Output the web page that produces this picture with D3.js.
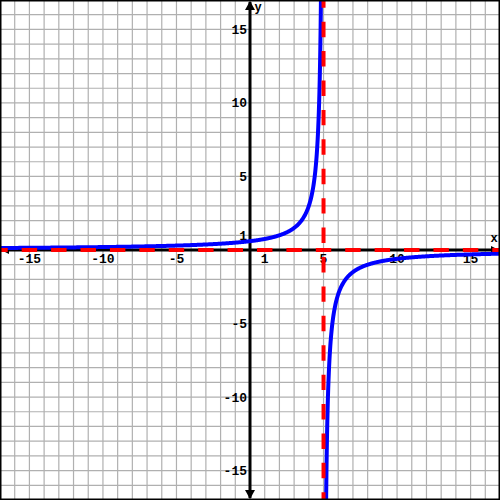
<!DOCTYPE html>
<html lang="en">
<head>
    <meta charset="UTF-8">
    <title>Rational function</title>
    <script src="https://cdnjs.cloudflare.com/ajax/libs/d3/7.8.5/d3.min.js"></script>
    <style>
        body { margin: 0; background: #fff; }
        text { font-family: "Liberation Mono", "DejaVu Sans Mono", monospace; font-weight: bold; font-size: 13px; fill: #000; }
    </style>
</head>
<body>
<div id="chart"></div>
<script>
    // Chart size
    var w = 500;
    var h = 500;

    // Data
    var xDomain = [-17, 17];
    var yDomain = [-17, 17];
    var gridValues = d3.range(-17, 18);
    var xTicks = [-15, -10, -5, 1, 5, 10, 15];
    var yTicks = [15, 10, 5, 1, -5, -10, -15];
    // y = numerator / (asymptoteX - x)
    var numerator = [3];
    var asymptoteX = [5];
    var asymptoteY = [0];

    var x = d3.scaleLinear().domain(xDomain).range([0, w]);
    var y = d3.scaleLinear().domain(yDomain).range([h, 0]);
    var unit = x(1) - x(0);

    var svg = d3.select("#chart").append("svg")
        .attr("width", w)
        .attr("height", h);

    svg.append("defs").append("clipPath").attr("id", "clip")
        .append("rect").attr("width", w).attr("height", h);

    // grid
    var grid = svg.append("g").attr("stroke", "#b0b0b0").attr("stroke-width", 1.2);
    grid.selectAll(".gx").data(gridValues).enter().append("line")
        .attr("x1", function(d) { return x(d); })
        .attr("x2", function(d) { return x(d); })
        .attr("y1", 0).attr("y2", h);
    grid.selectAll(".gy").data(gridValues).enter().append("line")
        .attr("y1", function(d) { return y(d); })
        .attr("y2", function(d) { return y(d); })
        .attr("x1", 0).attr("x2", w);

    // axes
    var axes = svg.append("g");
    axes.append("line").attr("x1", 2).attr("x2", w - 2)
        .attr("y1", y(0)).attr("y2", y(0))
        .attr("stroke", "#000").attr("stroke-width", 3);
    axes.append("line").attr("x1", x(0)).attr("x2", x(0))
        .attr("y1", 2).attr("y2", h - 2)
        .attr("stroke", "#000").attr("stroke-width", 3);

    // arrow heads
    var a = 5;
    var arrows = [
        [[x(0), 1], [x(0) - a, 10], [x(0) + a, 10]],
        [[x(0), h - 1], [x(0) - a, h - 10], [x(0) + a, h - 10]],
        [[w - 1, y(0)], [w - 9, y(0) - 4], [w - 9, y(0) + 4]],
        [[1, y(0)], [9, y(0) - 4], [9, y(0) + 4]]
    ];
    axes.selectAll("path.arrow").data(arrows).enter().append("path")
        .attr("class", "arrow")
        .attr("d", function(d) { return "M" + d.join("L") + "Z"; })
        .attr("fill", "#000");

    // tick labels
    svg.selectAll(".xlabel").data(xTicks).enter().append("text")
        .attr("x", function(d) { return x(d); })
        .attr("y", y(0) + 13)
        .attr("text-anchor", "middle")
        .text(function(d) { return d; });
    svg.selectAll(".ylabel").data(yTicks).enter().append("text")
        .attr("x", x(0) - 3)
        .attr("y", function(d) { return y(d) + 4.5; })
        .attr("text-anchor", "end")
        .text(function(d) { return d; });

    svg.append("text").attr("x", w - 6).attr("y", y(0) - 8)
        .attr("text-anchor", "middle").style("font-size", "12px").text("x");
    svg.append("text").attr("x", x(0) + 8).attr("y", 11)
        .attr("text-anchor", "middle").style("font-size", "12px").text("y");

    // curve, sampled on both sides of the vertical asymptote
    var f = function(t) { return numerator[0] / (asymptoteX[0] - t); };
    var left = d3.range(xDomain[0], asymptoteX[0] - 0.15, 0.02).concat([asymptoteX[0] - 0.15]);
    var right = [asymptoteX[0] + 0.15].concat(d3.range(asymptoteX[0] + 0.16, xDomain[1] + 0.01, 0.02));
    var line = d3.line()
        .x(function(d) { return x(d); })
        .y(function(d) { return y(f(d)); });

    var curves = svg.append("g").attr("clip-path", "url(#clip)");
    curves.selectAll("path").data([left, right]).enter().append("path")
        .attr("d", line)
        .attr("fill", "none")
        .attr("stroke", "#0000ff")
        .attr("stroke-width", 4);

    // asymptotes, dashes centered on odd units
    var dash = 1.05 * unit;
    var dashArray = dash + "," + (2 * unit - dash);
    var dashOffset = 2 * unit - (1.5 * unit + (2 * unit - dash) / 2) + (unit - dash) / 2;
    var asym = svg.append("g").attr("stroke", "#ff0000").attr("stroke-width", 4)
        .attr("stroke-dasharray", dashArray);
    asym.selectAll(".av").data(asymptoteX).enter().append("line")
        .attr("x1", function(d) { return x(d); })
        .attr("x2", function(d) { return x(d); })
        .attr("y1", 0).attr("y2", h)
        .attr("stroke-dashoffset", unit * 2 - (1.5 * unit + (unit - dash) / 2) % (2 * unit));
    asym.selectAll(".ah").data(asymptoteY).enter().append("line")
        .attr("y1", function(d) { return y(d); })
        .attr("y2", function(d) { return y(d); })
        .attr("x1", 0).attr("x2", w)
        .attr("stroke-dashoffset", unit * 2 - (1.5 * unit + (unit - dash) / 2) % (2 * unit));

    // border
    svg.append("rect").attr("x", 0.75).attr("y", 0.75)
        .attr("width", w - 1.5).attr("height", h - 1.5)
        .attr("fill", "none").attr("stroke", "#000").attr("stroke-width", 1.5);
</script>
</body>
</html>
